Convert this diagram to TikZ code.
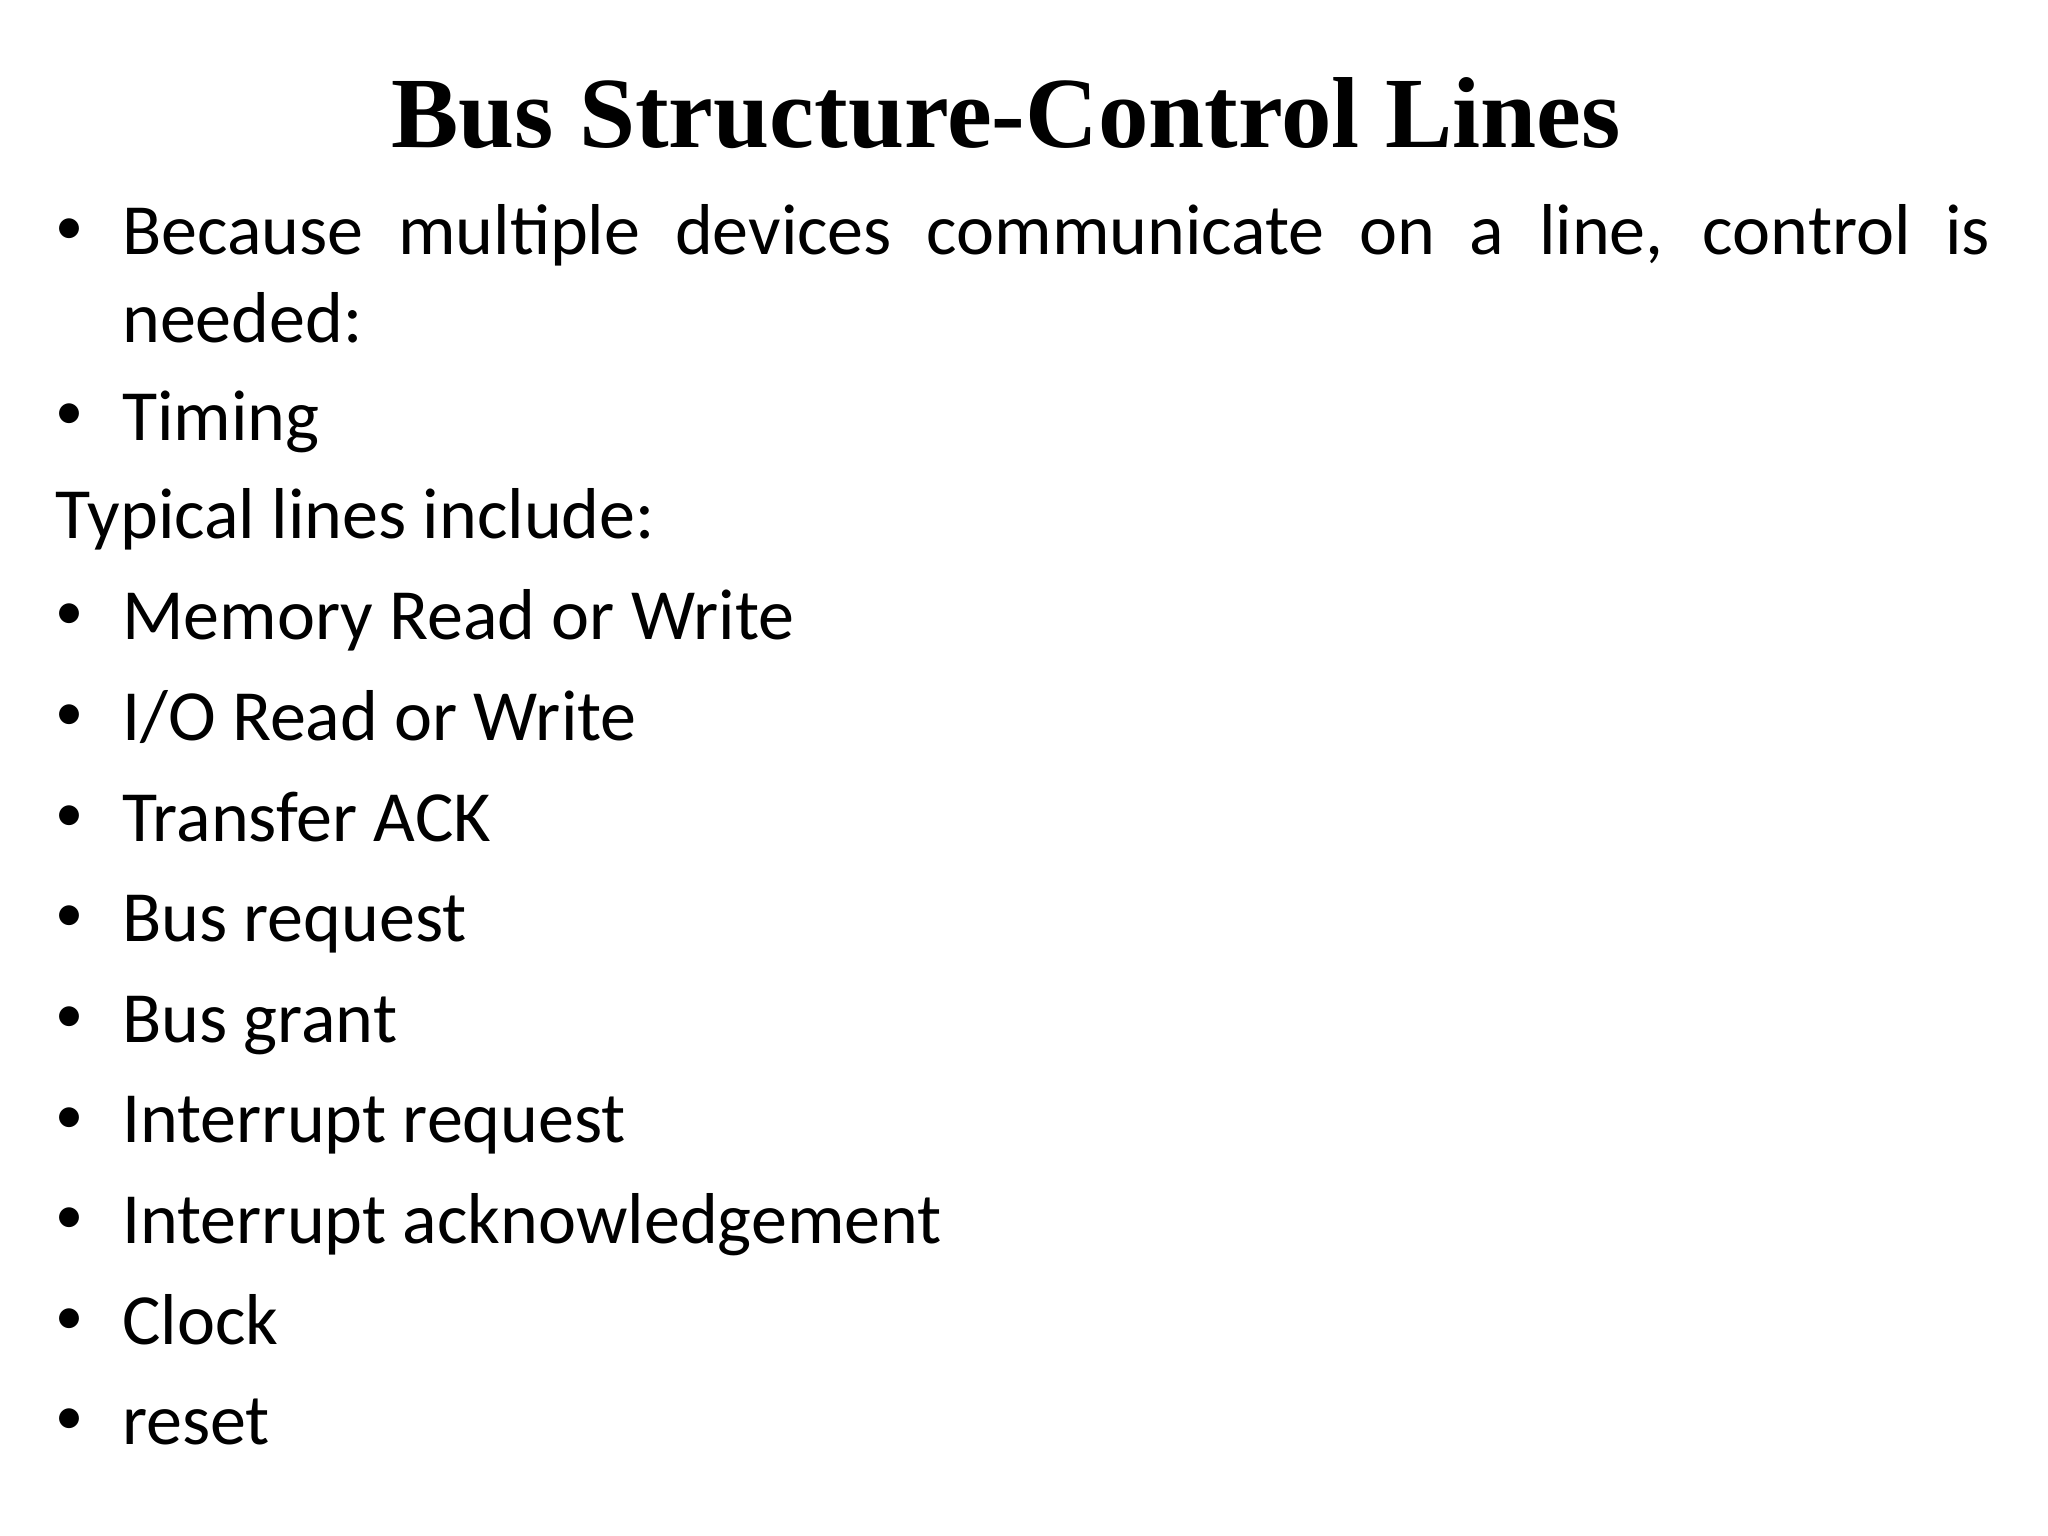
\documentclass[tikz,border=0pt]{standalone}
\usepackage{fontspec}
\setmainfont{Carlito}
\newfontfamily\titlefont{Liberation Serif}
\begin{document}
\begin{tikzpicture}[x=1cm,y=-1cm,
  bodytext/.style={anchor=base west,inner sep=0pt,font=\fontsize{20.5}{24.9}\selectfont},
  bul/.style={anchor=base west,inner sep=0pt,font=\fontsize{16}{20}\selectfont}]
\useasboundingbox (0,0) rectangle (20.48,15.36);
\node[anchor=base,inner sep=0pt,font=\titlefont\bfseries\fontsize{28.7}{34}\selectfont] (title) at (10.06,1.476) {Bus Structure-Control Lines};
\node[bul] (b0) at (0.55,2.45) {•};
\node[bodytext,text width=18.68cm,align=justify] (t0) at (1.215,2.547) {Because multiple devices communicate on a line, control is needed:};
\node[bul] (b1) at (0.55,4.30) {•};
\node[bodytext] (t1) at (1.215,4.401) {Timing};
\node[bodytext] (t2) at (0.55,5.381) {Typical lines include:};
\foreach \i/\t in {0/{Memory Read or Write},1/{I/O Read or Write},2/{Transfer ACK},3/{Bus request},4/{Bus grant},5/{Interrupt request},6/{Interrupt acknowledgement},7/{Clock},8/{reset}}{
  \node[bul] (lb\i) at (0.55,6.30+1.006*\i) {•};
  \node[bodytext] (lt\i) at (1.215,6.399+1.006*\i) {\t};
}
\end{tikzpicture}
\end{document}
